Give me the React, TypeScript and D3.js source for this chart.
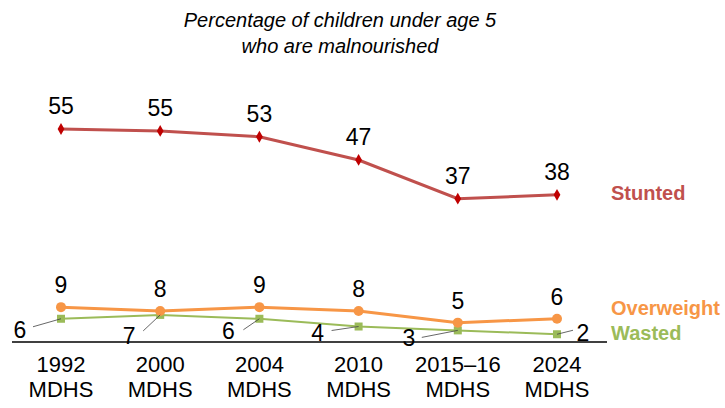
import { useEffect, useRef } from "react";
import * as d3 from "d3";

const surveys = ["1992", "2000", "2004", "2010", "2015\u201316", "2024"];
const stunted = [55, 54.5, 53, 47, 37, 38];
const overweight = [9, 8, 9, 8, 5, 6];
const wasted = [6, 7, 6, 4, 3, 2];
const stuntedLabels = [55, 55, 53, 47, 37, 38];

// label offsets for the wasted series (dx, dy from the point, leader end)
const wastedLabelPos = [
    { dx: -41, dy: 11, lx: -28, ly: 8 },
    { dx: -31, dy: 21, lx: -17, ly: 16 },
    { dx: -31, dy: 12, lx: -16, ly: 11 },
    { dx: -41, dy: 6, lx: -27, ly: 4 },
    { dx: -49, dy: 8, lx: -36, ly: 7 },
    { dx: 26, dy: -1, lx: 16, ly: -4 },
];

const RED = "#C0504D";
const ORANGE = "#F79646";
const GREEN = "#9BBB59";

export default function App() {
    const svgRef = useRef<SVGSVGElement>(null);

    useEffect(() => {
        if (!svgRef.current) return;
        const svg = d3.select(svgRef.current);
        svg.selectAll("*").remove();

        const font = "Liberation Sans, Arial, sans-serif";

        const x = d3.scalePoint<string>().domain(surveys).range([61, 557]);
        const y = d3.scaleLinear().domain([0, 55]).range([342, 129]);

        // title
        const title = svg.append("text")
            .attr("font-family", font)
            .attr("font-style", "italic")
            .attr("font-size", 20)
            .attr("text-anchor", "middle")
            .attr("fill", "#000");
        title.append("tspan").attr("x", 340).attr("y", 27).text("Percentage of children under age 5");
        title.append("tspan").attr("x", 340).attr("y", 53).text("who are malnourished");

        // baseline
        svg.append("line")
            .attr("x1", 12).attr("x2", 607)
            .attr("y1", y(0)).attr("y2", y(0))
            .attr("stroke", "#000").attr("stroke-width", 1.5);

        // x labels
        const xl = svg.append("g").attr("font-family", font).attr("font-size", 22).attr("text-anchor", "middle");
        surveys.forEach((s) => {
            const t = xl.append("text").attr("fill", "#000");
            t.append("tspan").attr("x", x(s)!).attr("y", 372).text(s);
            t.append("tspan").attr("x", x(s)!).attr("y", 397).text("MDHS");
        });

        const line = d3.line<number>()
            .x((_, i) => x(surveys[i])!)
            .y((d) => y(d));

        svg.append("path").datum(wasted).attr("d", line)
            .attr("fill", "none").attr("stroke", GREEN).attr("stroke-width", 2);
        svg.append("path").datum(overweight).attr("d", line)
            .attr("fill", "none").attr("stroke", ORANGE).attr("stroke-width", 3);
        svg.append("path").datum(stunted).attr("d", line)
            .attr("fill", "none").attr("stroke", RED).attr("stroke-width", 3);

        // markers
        svg.append("g").selectAll("rect").data(wasted).enter().append("rect")
            .attr("x", (_, i) => x(surveys[i])! - 4)
            .attr("y", (d) => y(d) - 4)
            .attr("width", 8).attr("height", 8)
            .attr("fill", GREEN);

        svg.append("g").selectAll("circle").data(overweight).enter().append("circle")
            .attr("cx", (_, i) => x(surveys[i])!)
            .attr("cy", (d) => y(d))
            .attr("r", 5)
            .attr("fill", ORANGE);

        const diamond = d3.symbol().type(d3.symbolDiamond).size(40);
        svg.append("g").selectAll("path").data(stunted).enter().append("path")
            .attr("d", diamond)
            .attr("transform", (d, i) => `translate(${x(surveys[i])},${y(d)})`)
            .attr("fill", "#C00000");

        // value labels
        const lab = svg.append("g").attr("font-family", font).attr("font-size", 23).attr("fill", "#000").attr("text-anchor", "middle");
        stunted.forEach((v, i) => {
            lab.append("text").attr("x", x(surveys[i])!).attr("y", y(v) - 15).text(stuntedLabels[i]);
        });
        overweight.forEach((v, i) => {
            lab.append("text").attr("x", x(surveys[i])!).attr("y", y(v) - 14).text(v);
        });
        wasted.forEach((v, i) => {
            const px = x(surveys[i])!;
            const py = y(v);
            const p = wastedLabelPos[i];
            lab.append("text").attr("x", px + p.dx).attr("y", py + p.dy + 8).text(v);
            svg.append("line")
                .attr("x1", px).attr("y1", py)
                .attr("x2", px + p.lx).attr("y2", py + p.ly)
                .attr("stroke", "#404040").attr("stroke-width", 0.8);
        });

        // series labels
        const sl = svg.append("g").attr("font-family", font).attr("font-size", 20).attr("font-weight", "bold");
        sl.append("text").attr("x", 611).attr("y", 200).attr("fill", RED).text("Stunted");
        sl.append("text").attr("x", 611).attr("y", 315).attr("fill", ORANGE).text("Overweight");
        sl.append("text").attr("x", 611).attr("y", 340).attr("fill", GREEN).text("Wasted");
    }, []);

    return (
        <svg
            ref={svgRef}
            width={725}
            height={408}
            style={{ position: "absolute", left: 0, top: 0, background: "#fff" }}
        />
    );
}
